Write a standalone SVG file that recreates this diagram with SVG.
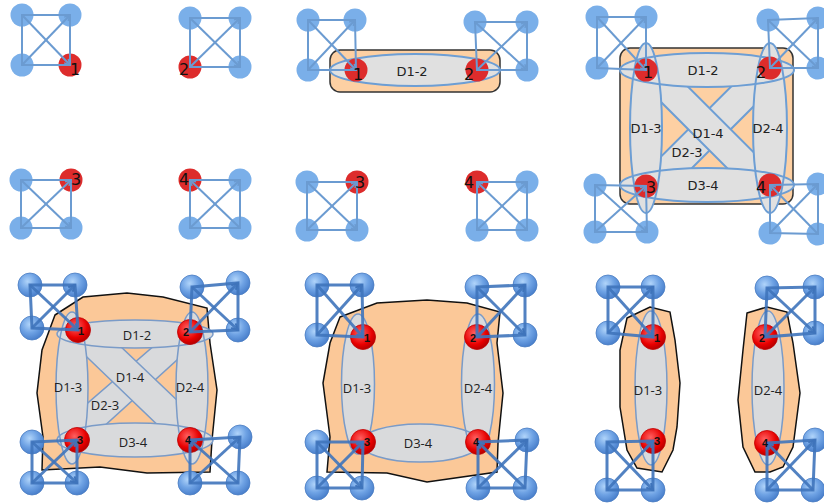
<svg xmlns="http://www.w3.org/2000/svg" width="824" height="504" viewBox="0 0 824 504">
<style>
.nb{fill:#7aafe9}
.nr{fill:#dd2c2c}
.et{fill:none;stroke:#6b9bd1;stroke-width:2}
.nbb{fill:url(#gB);stroke:#4a7cc2;stroke-width:0.8}
.nrb{fill:url(#gR);stroke:#c00000;stroke-width:0.8}
.eb{fill:none;stroke:#3f74bb;stroke-width:3;stroke-opacity:0.9}
.nl{font-family:"DejaVu Sans",sans-serif;font-size:16px;fill:#111}
.nlb{font-family:"Liberation Sans",sans-serif;font-size:11px;font-weight:bold;fill:#111;text-anchor:middle}
.orT{fill:#fdd0a3;stroke:#333;stroke-width:1.5}
.gyT{fill:#e0e0e0}
.gyS{fill:none;stroke:#6d9ed4;stroke-width:2}
.bandT{fill:#e0e0e0;stroke:#6d9ed4;stroke-width:2}
.orB{fill:#fbc898;stroke:#111;stroke-width:1.5}
.gyB{fill:#d9dadc}
.gyBS{fill:none;stroke:#7a9bc8;stroke-width:1.5}
.bandB{fill:#d9dadc;stroke:#7a9bc8;stroke-width:1.5}
.dl{font-family:"DejaVu Sans",sans-serif;font-size:13px;fill:#222;text-anchor:middle}
.dlb{font-family:"Open Sans",sans-serif;font-size:13px;fill:#222;text-anchor:middle}
</style>
<defs>
<radialGradient id="gB" cx="0.4" cy="0.35" r="0.65"><stop offset="0" stop-color="#b0d4fa"/><stop offset="0.55" stop-color="#6ea2e4"/><stop offset="1" stop-color="#4a80cc"/></radialGradient>
<radialGradient id="gR" cx="0.4" cy="0.35" r="0.65"><stop offset="0" stop-color="#ff6060"/><stop offset="0.7" stop-color="#e80000"/><stop offset="1" stop-color="#b80000"/></radialGradient>
<marker id="ah" viewBox="0 0 10 10" refX="9" refY="5" markerWidth="7" markerHeight="7" markerUnits="userSpaceOnUse" orient="auto"><path d="M1,1 L9,5 L1,9" fill="none" stroke="#6b9bd1" stroke-width="2"/></marker>
<marker id="ahb" viewBox="0 0 10 10" refX="9" refY="5" markerWidth="8" markerHeight="8" markerUnits="userSpaceOnUse" orient="auto"><path d="M1,1 L9,5 L1,9" fill="none" stroke="#3f74bb" stroke-width="2.5"/></marker>
<clipPath id="c3"><rect x="658" y="82" width="101" height="90"/></clipPath>
<clipPath id="c4"><rect x="84" y="342" width="96" height="84"/></clipPath>
</defs>
<rect width="824" height="504" fill="#ffffff"/>

<!-- Panel 1 -->
<g id="p1">
<g id="p1-c1">
<circle class="nb" cx="22" cy="15" r="11.5"/><circle class="nb" cx="70" cy="15" r="11.5"/><circle class="nb" cx="22" cy="65" r="11.5"/><circle class="nr" cx="70" cy="65" r="11.5"/>
<path class="et" d="M22,15L70,15L70,65L22,65Z"/>
<line class="et" x1="22" y1="15" x2="70" y2="65" marker-end="url(#ah)"/><line class="et" x1="22" y1="65" x2="70" y2="15" marker-end="url(#ah)"/>
<text class="nl" x="70" y="75">1</text>
</g>
<g id="p1-c2">
<circle class="nb" cx="190" cy="18" r="11.5"/><circle class="nb" cx="240" cy="18" r="11.5"/><circle class="nr" cx="190" cy="67" r="11.5"/><circle class="nb" cx="240" cy="67" r="11.5"/>
<path class="et" d="M190,18L240,18L240,67L190,67Z"/>
<line class="et" x1="190" y1="18" x2="240" y2="67" marker-end="url(#ah)"/><line class="et" x1="190" y1="67" x2="240" y2="18" marker-end="url(#ah)"/>
<text class="nl" x="179" y="75">2</text>
</g>
<g id="p1-c3">
<circle class="nb" cx="21" cy="180" r="11.5"/><circle class="nr" cx="71" cy="180" r="11.5"/><circle class="nb" cx="21" cy="228" r="11.5"/><circle class="nb" cx="71" cy="228" r="11.5"/>
<path class="et" d="M21,180L71,180L71,228L21,228Z"/>
<line class="et" x1="21" y1="180" x2="71" y2="228" marker-end="url(#ah)"/><line class="et" x1="21" y1="228" x2="71" y2="180" marker-end="url(#ah)"/>
<text class="nl" x="71" y="185">3</text>
</g>
<g id="p1-c4">
<circle class="nr" cx="190" cy="180" r="11.5"/><circle class="nb" cx="240" cy="180" r="11.5"/><circle class="nb" cx="190" cy="228" r="11.5"/><circle class="nb" cx="240" cy="228" r="11.5"/>
<path class="et" d="M190,180L240,180L240,228L190,228Z"/>
<line class="et" x1="240" y1="228" x2="190" y2="180" marker-end="url(#ah)"/><line class="et" x1="190" y1="228" x2="240" y2="180" marker-end="url(#ah)"/>
<text class="nl" x="179" y="185">4</text>
</g>
</g>

<!-- Panel 2 -->
<g id="p2">
<g id="p2-d12">
<rect class="orT" x="330" y="50" width="170" height="42" rx="10"/>
<ellipse class="gyT" cx="415" cy="70" rx="85" ry="16"/>
<ellipse class="gyS" cx="415" cy="70" rx="85" ry="16"/>
<text class="dl" x="412" y="76">D1-2</text>
</g>
<g id="p2-c1">
<circle class="nb" cx="308" cy="20" r="11.5"/><circle class="nb" cx="355" cy="20" r="11.5"/><circle class="nb" cx="308" cy="70" r="11.5"/><circle class="nr" cx="356" cy="70" r="11.5"/>
<path class="et" d="M308,20L355,20L356,70L308,70Z"/>
<line class="et" x1="308" y1="20" x2="356" y2="70" marker-end="url(#ah)"/><line class="et" x1="308" y1="70" x2="355" y2="20" marker-end="url(#ah)"/>
<text class="nl" x="353" y="80">1</text>
</g>
<g id="p2-c2">
<circle class="nb" cx="475" cy="22" r="11.5"/><circle class="nb" cx="527" cy="22" r="11.5"/><circle class="nr" cx="477" cy="70" r="11.5"/><circle class="nb" cx="527" cy="70" r="11.5"/>
<path class="et" d="M475,22L527,22L527,70L477,70Z"/>
<line class="et" x1="475" y1="22" x2="527" y2="70" marker-end="url(#ah)"/><line class="et" x1="477" y1="70" x2="527" y2="22" marker-end="url(#ah)"/>
<text class="nl" x="464" y="80">2</text>
</g>
<g id="p2-c3">
<circle class="nb" cx="307" cy="182" r="11.5"/><circle class="nr" cx="357" cy="182" r="11.5"/><circle class="nb" cx="307" cy="230" r="11.5"/><circle class="nb" cx="357" cy="230" r="11.5"/>
<path class="et" d="M307,182L357,182L357,230L307,230Z"/>
<line class="et" x1="307" y1="182" x2="357" y2="230" marker-end="url(#ah)"/><line class="et" x1="307" y1="230" x2="357" y2="182" marker-end="url(#ah)"/>
<text class="nl" x="355" y="188">3</text>
</g>
<g id="p2-c4">
<circle class="nr" cx="477" cy="182" r="11.5"/><circle class="nb" cx="527" cy="182" r="11.5"/><circle class="nb" cx="477" cy="230" r="11.5"/><circle class="nb" cx="527" cy="230" r="11.5"/>
<path class="et" d="M477,182L527,182L527,230L477,230Z"/>
<line class="et" x1="527" y1="230" x2="477" y2="182" marker-end="url(#ah)"/><line class="et" x1="477" y1="230" x2="527" y2="182" marker-end="url(#ah)"/>
<text class="nl" x="464" y="188">4</text>
</g>
</g>

<!-- Panel 3 -->
<g id="p3">
<g id="p3-groups">
<rect class="orT" x="620" y="48" width="173" height="156" rx="10"/>
<g clip-path="url(#c3)">
<polygon class="bandT" points="640,177.7 780,37.7 780,80 640,220"/>
<polygon class="bandT" points="640,38.7 780,178.7 780,221 640,81"/>
</g>
<ellipse class="gyT" cx="646" cy="128" rx="16" ry="85"/>
<ellipse class="gyT" cx="770" cy="128" rx="17" ry="85"/>
<ellipse class="gyT" cx="707" cy="70" rx="87" ry="17"/>
<ellipse class="gyT" cx="707" cy="185" rx="87" ry="17"/>
<ellipse class="gyS" cx="646" cy="128" rx="16" ry="85"/>
<ellipse class="gyS" cx="770" cy="128" rx="17" ry="85"/>
<ellipse class="gyS" cx="707" cy="70" rx="87" ry="17"/>
<ellipse class="gyS" cx="707" cy="185" rx="87" ry="17"/>
<text class="dl" x="703" y="75">D1-2</text>
<text class="dl" x="646" y="133">D1-3</text>
<text class="dl" x="708" y="138">D1-4</text>
<text class="dl" x="687" y="157">D2-3</text>
<text class="dl" x="768" y="133">D2-4</text>
<text class="dl" x="703" y="190">D3-4</text>
</g>
<g id="p3-c1">
<circle class="nb" cx="597" cy="17" r="11.5"/><circle class="nb" cx="646" cy="17" r="11.5"/><circle class="nb" cx="597" cy="68" r="11.5"/><circle class="nr" cx="646" cy="70" r="11.5"/>
<path class="et" d="M597,17L646,17L646,70L597,68Z"/>
<line class="et" x1="597" y1="17" x2="646" y2="70" marker-end="url(#ah)"/><line class="et" x1="597" y1="68" x2="646" y2="17" marker-end="url(#ah)"/>
<text class="nl" x="643" y="78">1</text>
</g>
<g id="p3-c2">
<circle class="nb" cx="768" cy="20" r="11.5"/><circle class="nb" cx="818" cy="18" r="11.5"/><circle class="nr" cx="770" cy="68" r="11.5"/><circle class="nb" cx="818" cy="68" r="11.5"/>
<path class="et" d="M768,20L818,18L818,68L770,68Z"/>
<line class="et" x1="768" y1="20" x2="818" y2="68" marker-end="url(#ah)"/><line class="et" x1="770" y1="68" x2="818" y2="18" marker-end="url(#ah)"/>
<text class="nl" x="756" y="78">2</text>
</g>
<g id="p3-c3">
<circle class="nb" cx="595" cy="185" r="11.5"/><circle class="nr" cx="646" cy="186" r="11.5"/><circle class="nb" cx="595" cy="232" r="11.5"/><circle class="nb" cx="647" cy="232" r="11.5"/>
<path class="et" d="M595,185L646,186L647,232L595,232Z"/>
<line class="et" x1="595" y1="185" x2="647" y2="232" marker-end="url(#ah)"/><line class="et" x1="595" y1="232" x2="646" y2="186" marker-end="url(#ah)"/>
<text class="nl" x="646" y="193">3</text>
</g>
<g id="p3-c4">
<circle class="nr" cx="770" cy="185" r="11.5"/><circle class="nb" cx="818" cy="184" r="11.5"/><circle class="nb" cx="770" cy="233" r="11.5"/><circle class="nb" cx="818" cy="234" r="11.5"/>
<path class="et" d="M770,185L818,184L818,234L770,233Z"/>
<line class="et" x1="818" y1="234" x2="770" y2="185" marker-end="url(#ah)"/><line class="et" x1="770" y1="233" x2="818" y2="184" marker-end="url(#ah)"/>
<text class="nl" x="756" y="193">4</text>
</g>
</g>

<!-- Panel 4 -->
<g id="p4">
<g id="p4-groups">
<path class="orB" d="M55,315 L83,297 L127,293 L163,297 L207,308 L210,343 L217,390 L212,440 L210,472 L147,473 L100,467 L42,470 L43,437 L37,393 L42,350 Z"/>
<g clip-path="url(#c4)">
<polygon class="bandB" points="70,418.4 200,306 200,339 70,457.2"/>
<polygon class="bandB" points="70,298.3 200,422.1 200,465.8 70,340.7"/>
</g>
<ellipse class="gyB" cx="72" cy="388" rx="16" ry="76"/>
<ellipse class="gyB" cx="192" cy="388" rx="16" ry="76"/>
<ellipse class="gyB" cx="135" cy="334" rx="78" ry="14"/>
<ellipse class="gyB" cx="135" cy="440" rx="78" ry="17"/>
<ellipse class="gyBS" cx="72" cy="388" rx="16" ry="76"/>
<ellipse class="gyBS" cx="192" cy="388" rx="16" ry="76"/>
<ellipse class="gyBS" cx="135" cy="334" rx="78" ry="14"/>
<ellipse class="gyBS" cx="135" cy="440" rx="78" ry="17"/>
<text class="dlb" x="137" y="340">D1-2</text>
<text class="dlb" x="68" y="392">D1-3</text>
<text class="dlb" x="130" y="382">D1-4</text>
<text class="dlb" x="105" y="410">D2-3</text>
<text class="dlb" x="190" y="392">D2-4</text>
<text class="dlb" x="133" y="447">D3-4</text>
</g>
<g id="p4-c1">
<circle class="nbb" cx="30" cy="285" r="12"/><circle class="nbb" cx="75" cy="285" r="12"/><circle class="nbb" cx="32" cy="328" r="12"/><circle class="nrb" cx="78" cy="330" r="12.5"/>
<path class="eb" d="M30,285L75,285L78,330L32,328Z"/>
<line class="eb" x1="30" y1="285" x2="78" y2="330" marker-end="url(#ahb)"/><line class="eb" x1="32" y1="328" x2="75" y2="285" marker-end="url(#ahb)"/>
<text class="nlb" x="81" y="335">1</text>
</g>
<g id="p4-c2">
<circle class="nbb" cx="192" cy="287" r="12"/><circle class="nbb" cx="238" cy="283" r="12"/><circle class="nrb" cx="190" cy="332" r="12.5"/><circle class="nbb" cx="238" cy="330" r="12"/>
<path class="eb" d="M192,287L238,283L238,330L190,332Z"/>
<line class="eb" x1="192" y1="287" x2="238" y2="330" marker-end="url(#ahb)"/><line class="eb" x1="190" y1="332" x2="238" y2="283" marker-end="url(#ahb)"/>
<text class="nlb" x="186" y="336">2</text>
</g>
<g id="p4-c3">
<circle class="nbb" cx="32" cy="442" r="12"/><circle class="nrb" cx="77" cy="440" r="12.5"/><circle class="nbb" cx="32" cy="483" r="12"/><circle class="nbb" cx="77" cy="483" r="12"/>
<path class="eb" d="M32,442L77,440L77,483L32,483Z"/>
<line class="eb" x1="32" y1="442" x2="77" y2="483" marker-end="url(#ahb)"/><line class="eb" x1="32" y1="483" x2="77" y2="440" marker-end="url(#ahb)"/>
<text class="nlb" x="80" y="444">3</text>
</g>
<g id="p4-c4">
<circle class="nrb" cx="190" cy="440" r="12.5"/><circle class="nbb" cx="240" cy="437" r="12"/><circle class="nbb" cx="190" cy="483" r="12"/><circle class="nbb" cx="238" cy="483" r="12"/>
<path class="eb" d="M190,440L240,437L238,483L190,483Z"/>
<line class="eb" x1="238" y1="483" x2="190" y2="440" marker-end="url(#ahb)"/><line class="eb" x1="190" y1="483" x2="240" y2="437" marker-end="url(#ahb)"/>
<text class="nlb" x="188" y="444">4</text>
</g>
</g>

<!-- Panel 5 -->
<g id="p5">
<g id="p5-groups">
<path class="orB" d="M340,317 L377,303 L427,300 L467,303 L500,312 L497,343 L503,393 L498,443 L497,472 L427,482 L387,473 L327,472 L330,437 L323,383 L330,343 Z"/>
<ellipse class="gyB" cx="420" cy="443" rx="60" ry="19"/>
<ellipse class="gyB" cx="358" cy="384" rx="16.5" ry="70"/>
<ellipse class="gyB" cx="478" cy="384" rx="16.5" ry="70"/>
<ellipse class="gyBS" cx="420" cy="443" rx="60" ry="19"/>
<ellipse class="gyBS" cx="358" cy="384" rx="16.5" ry="70"/>
<ellipse class="gyBS" cx="478" cy="384" rx="16.5" ry="70"/>
<text class="dlb" x="357" y="393">D1-3</text>
<text class="dlb" x="478" y="393">D2-4</text>
<text class="dlb" x="418" y="448">D3-4</text>
</g>
<g id="p5-c1">
<circle class="nbb" cx="317" cy="285" r="12"/><circle class="nbb" cx="362" cy="285" r="12"/><circle class="nbb" cx="317" cy="335" r="12"/><circle class="nrb" cx="363" cy="337" r="12.5"/>
<path class="eb" d="M317,285L362,285L363,337L317,335Z"/>
<line class="eb" x1="317" y1="285" x2="363" y2="337" marker-end="url(#ahb)"/><line class="eb" x1="317" y1="335" x2="362" y2="285" marker-end="url(#ahb)"/>
<text class="nlb" x="367" y="342">1</text>
</g>
<g id="p5-c2">
<circle class="nbb" cx="477" cy="287" r="12"/><circle class="nbb" cx="525" cy="285" r="12"/><circle class="nrb" cx="477" cy="337" r="12.5"/><circle class="nbb" cx="525" cy="335" r="12"/>
<path class="eb" d="M477,287L525,285L525,335L477,337Z"/>
<line class="eb" x1="477" y1="287" x2="525" y2="335" marker-end="url(#ahb)"/><line class="eb" x1="477" y1="337" x2="525" y2="285" marker-end="url(#ahb)"/>
<text class="nlb" x="473" y="342">2</text>
</g>
<g id="p5-c3">
<circle class="nbb" cx="317" cy="442" r="12"/><circle class="nrb" cx="363" cy="442" r="12.5"/><circle class="nbb" cx="317" cy="488" r="12"/><circle class="nbb" cx="362" cy="488" r="12"/>
<path class="eb" d="M317,442L363,442L362,488L317,488Z"/>
<line class="eb" x1="317" y1="442" x2="362" y2="488" marker-end="url(#ahb)"/><line class="eb" x1="317" y1="488" x2="363" y2="442" marker-end="url(#ahb)"/>
<text class="nlb" x="367" y="446">3</text>
</g>
<g id="p5-c4">
<circle class="nrb" cx="478" cy="442" r="12.5"/><circle class="nbb" cx="527" cy="440" r="12"/><circle class="nbb" cx="478" cy="488" r="12"/><circle class="nbb" cx="525" cy="488" r="12"/>
<path class="eb" d="M478,442L527,440L525,488L478,488Z"/>
<line class="eb" x1="525" y1="488" x2="478" y2="442" marker-end="url(#ahb)"/><line class="eb" x1="478" y1="488" x2="527" y2="440" marker-end="url(#ahb)"/>
<text class="nlb" x="476" y="446">4</text>
</g>
</g>

<!-- Panel 6 -->
<g id="p6">
<g id="p6-g13">
<path class="orB" d="M627,318 L650,307 L670,312 L675,340 L680,383 L677,427 L673,450 L662,472 L637,468 L627,450 L620,407 L620,350 Z"/>
<ellipse class="gyB" cx="651" cy="388" rx="16" ry="77"/>
<ellipse class="gyBS" cx="651" cy="388" rx="16" ry="77"/>
<text class="dlb" x="648" y="395">D1-3</text>
</g>
<g id="p6-g24">
<path class="orB" d="M747,313 L767,307 L787,312 L793,343 L800,393 L793,447 L783,467 L770,472 L755,472 L743,447 L738,400 L743,350 Z"/>
<ellipse class="gyB" cx="768" cy="388" rx="16" ry="77"/>
<ellipse class="gyBS" cx="768" cy="388" rx="16" ry="77"/>
<text class="dlb" x="768" y="395">D2-4</text>
</g>
<g id="p6-c1">
<circle class="nbb" cx="608" cy="287" r="12"/><circle class="nbb" cx="653" cy="287" r="12"/><circle class="nbb" cx="608" cy="333" r="12"/><circle class="nrb" cx="653" cy="337" r="12.5"/>
<path class="eb" d="M608,287L653,287L653,337L608,333Z"/>
<line class="eb" x1="608" y1="287" x2="653" y2="337" marker-end="url(#ahb)"/><line class="eb" x1="608" y1="333" x2="653" y2="287" marker-end="url(#ahb)"/>
<text class="nlb" x="657" y="342">1</text>
</g>
<g id="p6-c2">
<circle class="nbb" cx="767" cy="288" r="12"/><circle class="nbb" cx="815" cy="287" r="12"/><circle class="nrb" cx="765" cy="337" r="12.5"/><circle class="nbb" cx="815" cy="333" r="12"/>
<path class="eb" d="M767,288L815,287L815,333L765,337Z"/>
<line class="eb" x1="767" y1="288" x2="815" y2="333" marker-end="url(#ahb)"/><line class="eb" x1="765" y1="337" x2="815" y2="287" marker-end="url(#ahb)"/>
<text class="nlb" x="762" y="342">2</text>
</g>
<g id="p6-c3">
<circle class="nbb" cx="607" cy="442" r="12"/><circle class="nrb" cx="653" cy="441" r="12.5"/><circle class="nbb" cx="607" cy="490" r="12"/><circle class="nbb" cx="653" cy="490" r="12"/>
<path class="eb" d="M607,442L653,441L653,490L607,490Z"/>
<line class="eb" x1="607" y1="442" x2="653" y2="490" marker-end="url(#ahb)"/><line class="eb" x1="607" y1="490" x2="653" y2="441" marker-end="url(#ahb)"/>
<text class="nlb" x="657" y="445">3</text>
</g>
<g id="p6-c4">
<circle class="nrb" cx="767" cy="443" r="12.5"/><circle class="nbb" cx="815" cy="440" r="12"/><circle class="nbb" cx="767" cy="490" r="12"/><circle class="nbb" cx="813" cy="490" r="12"/>
<path class="eb" d="M767,443L815,440L813,490L767,490Z"/>
<line class="eb" x1="813" y1="490" x2="767" y2="443" marker-end="url(#ahb)"/><line class="eb" x1="767" y1="490" x2="815" y2="440" marker-end="url(#ahb)"/>
<text class="nlb" x="765" y="447">4</text>
</g>
</g>
</svg>
